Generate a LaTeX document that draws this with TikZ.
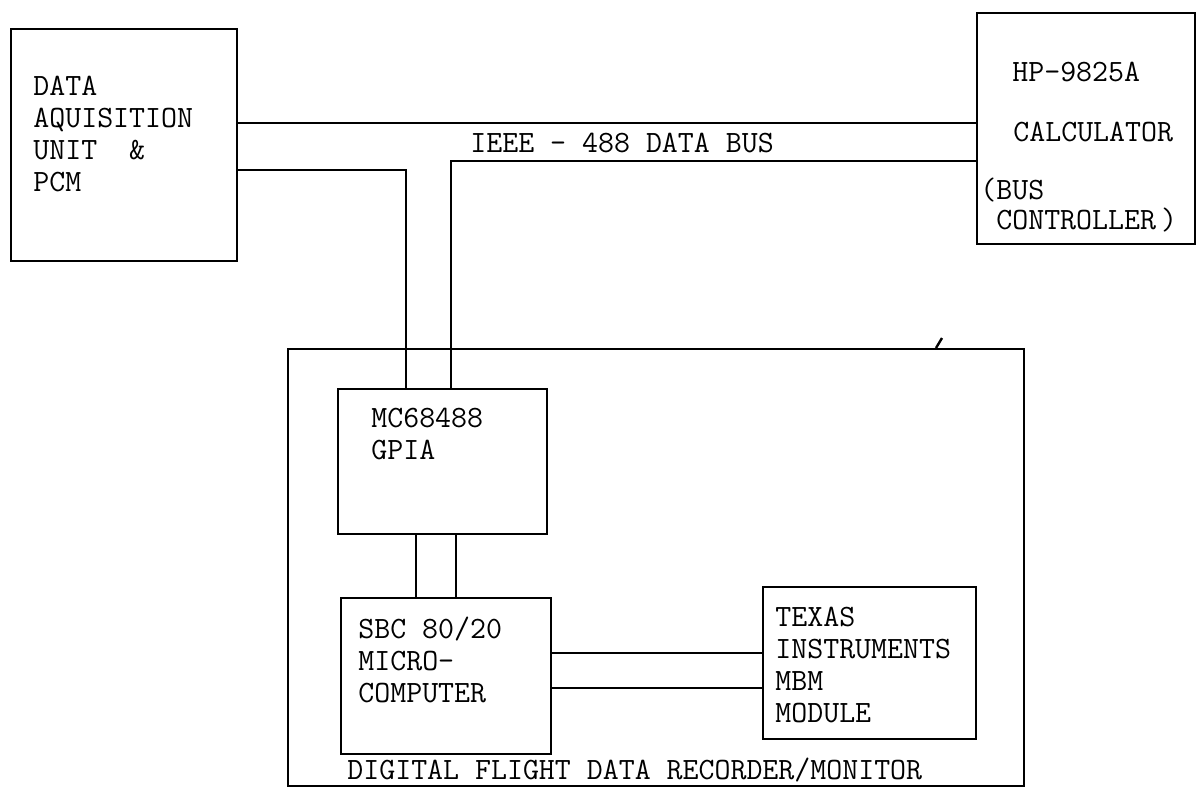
\documentclass[tikz,border=0pt]{standalone}
\begin{document}
\begin{tikzpicture}[x=0.5pt,y=-0.5pt,
  box/.style 2 args={draw,line width=1.2pt,anchor=north west,inner sep=0pt,
    minimum width=#1*0.5pt,minimum height=#2*0.5pt},
  txt/.style={font=\ttfamily\fontsize{15.5}{16}\selectfont,align=left,anchor=west,inner sep=0pt},
  bus/.style={line width=1.2pt}]
  \useasboundingbox (0,0) rectangle (1197,794);
  % units
  \node[box={226}{232}] (daq) at (10,28) {};
  \node[box={218}{231}] (calc) at (976,12) {};
  \node[box={736}{437}] (dfdr) at (287,348) {};
  \node[box={209}{145}] (gpia) at (337,388) {};
  \node[box={210}{156}] (sbc) at (340,597) {};
  \node[box={213}{152}] (ti) at (762,586) {};
  % labels
  \node[txt] (daqtxt) at (33,133.5) {DATA\\AQUISITION\\UNIT\ \ \&\\PCM};
  \node[txt] (hptxt) at (1012,72) {HP-9825A};
  \node[txt] (calctxt) at (1013,132) {CALCULATOR};
  \node[txt,font=\ttfamily\fontsize{15.5}{15}\selectfont] (ctrltxt) at (980,205)
    {(BUS\\\phantom{(}CONTROLLER\,)};
  \node[txt] (bustxt) at (470,143) {IEEE - 488 DATA BUS};
  \node[txt] (gpiatxt) at (371,433.5) {MC68488\\GPIA};
  \node[txt] (sbctxt) at (358,660) {SBC 80/20\\MICRO-\\COMPUTER};
  \node[txt] (titxt) at (775,665) {TEXAS\\INSTRUMENTS\\MBM\\MODULE};
  \node[txt] (dfdrtxt) at (347,770) {DIGITAL FLIGHT DATA RECORDER/MONITOR};
  % IEEE-488 bus
  \coordinate (bustop) at (600,123);
  \coordinate (tapa) at (406,170);
  \coordinate (tapb) at (451,161);
  \draw[bus] (daq.east |- bustop) -- (calc.west |- bustop);
  \draw[bus] (daq.east |- tapa) -- (tapa) -- (tapa |- gpia.north);
  \draw[bus] (calc.west |- tapb) -- (tapb) -- (tapb |- gpia.north);
  \draw[bus] (dfdr.north -| 936,0) -- ++(6,-10);
  % inside the recorder
  \foreach \x in {416,456}
    \draw[bus] (\x,0 |- gpia.south) -- (\x,0 |- sbc.north);
  \foreach \y in {653,688}
    \draw[bus] (sbc.east |- 0,\y) -- (ti.west |- 0,\y);
\end{tikzpicture}
\end{document}
